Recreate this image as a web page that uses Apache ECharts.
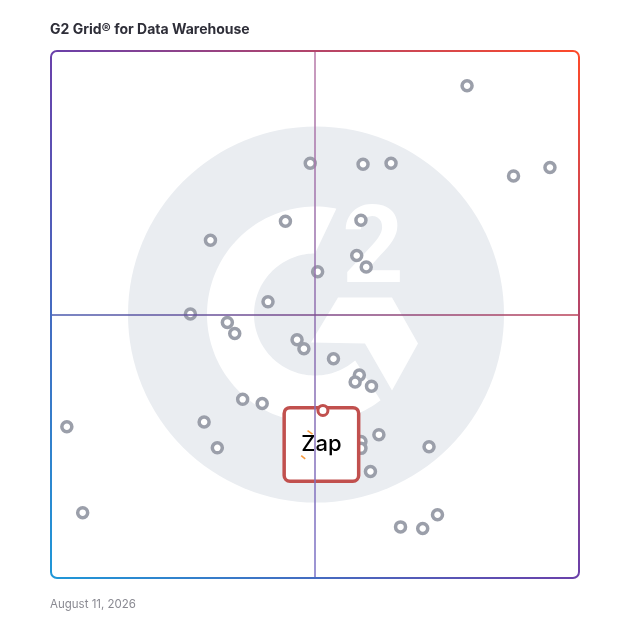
<!DOCTYPE html>
<html><head><meta charset="utf-8">
<script src="https://cdn.jsdelivr.net/npm/echarts@6/dist/echarts.min.js"></script>
<style>html,body{margin:0;padding:0;background:#fff}#c{width:628px;height:628px}</style>
</head><body><div id="c"></div>
<script>
// ---- data ----
const productX = [78.8, 49.1, 59.1, 64.4, 87.6, 94.5, 44.4, 58.7, 30.2, 57.9, 59.7, 50.5,
                  41.1, 26.4, 33.4, 34.8, 46.6, 47.9, 53.5, 58.4, 57.6, 60.7, 36.3, 40.0,
                  29.0, 62.1, 58.7, 58.7, 71.6, 31.5, 60.5, 3.0, 6.0, 66.2, 70.4, 73.2];
const productY = [93.4, 78.7, 78.5, 78.7, 76.3, 77.9, 67.7, 67.9, 64.1, 61.2, 59.0, 58.1,
                  52.4, 50.1, 48.5, 46.4, 45.2, 43.5, 41.6, 38.5, 37.2, 36.4, 33.9, 33.1,
                  29.6, 27.2, 25.9, 24.6, 24.9, 24.7, 20.2, 28.7, 12.4, 9.7, 9.4, 12.0];
const zapX = [51.5];
const zapY = [31.8];
const zapName = ['Zap'];
const titleText = 'G2 Grid\u00AE for Data Warehouse';
const dateText = 'August 11, 2026';
const midX = 50, midY = 50;
const axisMin = 0, axisMax = 100;

const chart = echarts.init(document.getElementById('c'), null, {renderer: 'canvas'});
const pts = productX.map((x, i) => [x, productY[i]]);
const zapPts = zapX.map((x, i) => [x, zapY[i], zapName[i]]);
const LG = echarts.graphic.LinearGradient;

chart.setOption({
  animation: false,
  title: [
    {text: titleText, left: 50, top: 23, padding: 0,
     textStyle: {fontSize: 14, fontWeight: 'bold', color: '#2e2e38', fontFamily: 'Inter, sans-serif'}},
    {text: dateText, left: 50, top: 599, padding: 0,
     textStyle: {fontSize: 11.5, fontWeight: 'normal', color: '#8a8a92', fontFamily: 'Inter, sans-serif'}}
  ],
  grid: {left: 51, right: 49, top: 51, bottom: 50},
  xAxis: {type: 'value', min: axisMin, max: axisMax, show: false},
  yAxis: {type: 'value', min: axisMin, max: axisMax, show: false},
  series: [
    {type: 'scatter', z: 1, data: [[midX, midY]], symbolSize: 0, silent: true,
     markLine: {silent: true, symbol: 'none', label: {show: false}, animation: false,
       data: [
         {xAxis: midX, lineStyle: {width: 1.5, type: 'solid', opacity: 1,
           color: new LG(0, 0, 0, 1, [{offset: 0, color: '#b97aa8'}, {offset: 0.5, color: '#9070b0'}, {offset: 1, color: '#7b72c6'}])}},
         {yAxis: midY, lineStyle: {width: 1.5, type: 'solid', opacity: 1,
           color: new LG(0, 0, 1, 0, [{offset: 0, color: '#4a5cb0'}, {offset: 0.5, color: '#7e4c8c'}, {offset: 1, color: '#bc4258'}])}}
       ]}},
    {type: 'scatter', z: 2, data: pts, symbol: 'circle', symbolSize: 10,
     itemStyle: {color: '#ffffff', borderColor: '#9b9faa', borderWidth: 3.5, opacity: 1}},
    {type: 'scatter', z: 3, data: zapPts, symbolSize: 1, itemStyle: {color: 'rgba(0,0,0,0)', opacity: 1},
     label: {show: true, position: 'inside', offset: [-1.5, 34], formatter: p => p.data[2], opacity: 1,
       width: 71, height: 62, lineHeight: 62, padding: [8, 0, 0, 0], backgroundColor: '#ffffff', borderColor: '#c1504e',
       borderWidth: 3.5, borderRadius: 4, color: '#000000', fontSize: 22, fontWeight: 500,
       fontFamily: 'Inter, sans-serif', textBorderWidth: 0, textShadowBlur: 0,
       align: 'center', verticalAlign: 'middle'}},
    {type: 'scatter', z: 4, data: zapPts, symbol: 'circle', symbolSize: 10,
     itemStyle: {color: '#ffffff', borderColor: '#c1504e', borderWidth: 3, opacity: 1}}
  ]
});

// ---- decoration: frame, G2 watermark, Zap accent ----
const c = chart.convertToPixel({gridIndex: 0}, [midX, midY]);
const tl = chart.convertToPixel({gridIndex: 0}, [axisMin, axisMax]);
const br = chart.convertToPixel({gridIndex: 0}, [axisMax, axisMin]);
const zp = chart.convertToPixel({gridIndex: 0}, [zapX[0], zapY[0]]);
const cx = c[0], cy = c[1];

function ring() {
  const out = [], R = 108, r = 61, rad = Math.PI / 180;
  for (let a = 52.6; a < 281.4; a += 2) out.push([cx + R * Math.cos(a * rad), cy + R * Math.sin(a * rad)]);
  out.push([cx + R * Math.cos(281.4 * rad), cy + R * Math.sin(281.4 * rad)]);
  for (let a = 270; a > 48.8; a -= 2) out.push([cx + r * Math.cos(a * rad), cy + r * Math.sin(a * rad)]);
  out.push([cx + r * Math.cos(48.8 * rad), cy + r * Math.sin(48.8 * rad)]);
  return out;
}
const chev = [[23, -17], [77, -17], [103, 29], [77, 76], [50, 29], [-4, 28]].map(p => [cx + p[0], cy + p[1]]);

chart.setOption({
  graphic: [
    {type: 'circle', z: 0, silent: true, shape: {cx: cx + 1, cy: cy, r: 188}, style: {fill: '#eaedf1'}},
    {type: 'polygon', z: 0, silent: true, shape: {points: ring()}, style: {fill: '#ffffff'}},
    {type: 'polygon', z: 0, silent: true, shape: {points: chev}, style: {fill: '#ffffff'}},
    {type: 'text', z: 0, silent: true, x: cx + 58, y: cy - 60,
     style: {text: '2', fill: '#ffffff', fontSize: 108, fontWeight: 'bold', fontFamily: 'Roboto, sans-serif',
             textAlign: 'center', textVerticalAlign: 'middle'}},
    {type: 'rect', z: 10, silent: true,
     shape: {x: tl[0], y: tl[1], width: br[0] - tl[0], height: br[1] - tl[1], r: 6},
     style: {fill: 'none', lineWidth: 2,
       stroke: new LG(1, 0, 0, 1, [{offset: 0, color: '#ff4a28'}, {offset: 0.5, color: '#6a40aa'}, {offset: 1, color: '#1e98d8'}])}},
    {type: 'line', z: 10, silent: true, shape: {x1: zp[0] - 15.4, y1: zp[1] + 20.2, x2: zp[0] - 10.4, y2: zp[1] + 23.8},
     style: {stroke: '#f79a3e', lineWidth: 1.6}},
    {type: 'line', z: 10, silent: true, shape: {x1: zp[0] - 21.7, y1: zp[1] + 45.2, x2: zp[0] - 17.7, y2: zp[1] + 48.5},
     style: {stroke: '#f79a3e', lineWidth: 1.6}}
  ]
});
</script>
</body></html>
